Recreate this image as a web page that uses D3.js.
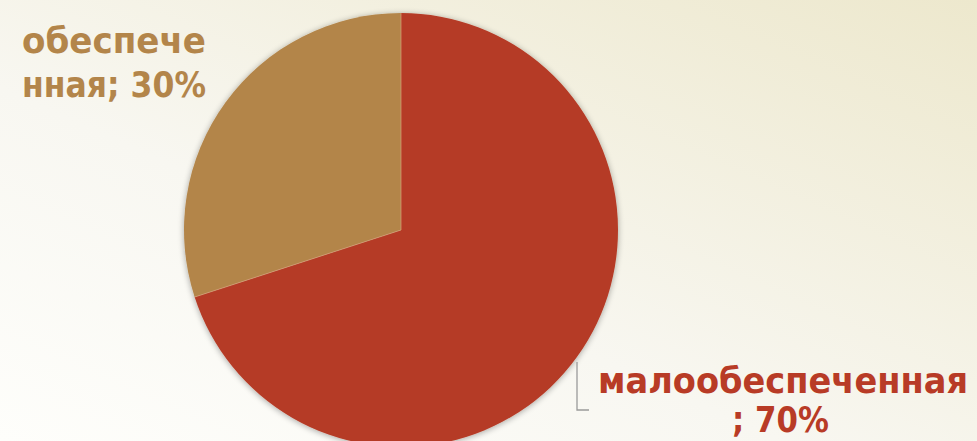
<!DOCTYPE html>
<html><head><meta charset="utf-8">
<script src="https://cdn.jsdelivr.net/npm/d3@7"></script>
<style>html,body{margin:0;padding:0;overflow:hidden;}svg{display:block;}</style>
</head><body>
<script>
const categories = ["обеспеченная", "малообеспеченная"];
const values = [30, 70];
const labelLines = [["обеспече", "нная; 30%"], ["малообеспеченная", "; 70%"]];
const colors = ["#b3854a", "#b53b26"];

const W = 977, H = 441;
const svg = d3.select("body").append("svg").attr("width", W).attr("height", H);
const defs = svg.append("defs");
const bg = defs.append("linearGradient").attr("id","bg").attr("x1","0%").attr("y1","100%").attr("x2","100%").attr("y2","0%");
bg.append("stop").attr("offset","0%").attr("stop-color","#fefefb");
bg.append("stop").attr("offset","40%").attr("stop-color","#f8f7f1");
bg.append("stop").attr("offset","100%").attr("stop-color","#ede8cd");
svg.append("rect").attr("width",W).attr("height",H).attr("fill","url(#bg)");

const f = defs.append("filter").attr("id","sh").attr("x","-20%").attr("y","-20%").attr("width","140%").attr("height","140%");
f.append("feGaussianBlur").attr("in","SourceAlpha").attr("stdDeviation",3);
f.append("feOffset").attr("dx",0).attr("dy",1).attr("result","b");
f.append("feComponentTransfer").append("feFuncA").attr("type","linear").attr("slope",0.35);
const m = f.append("feMerge"); m.append("feMergeNode"); m.append("feMergeNode").attr("in","SourceGraphic");

const cx = 401, cy = 230, R = 217;
const pieGen = d3.pie().sort(null).startAngle(0).endAngle(2*Math.PI);
const arcs = pieGen([values[1], values[0]]);
const arc = d3.arc().innerRadius(0).outerRadius(R);
const g = svg.append("g").attr("transform",`translate(${cx},${cy})`).attr("filter","url(#sh)");
g.selectAll("path").data(arcs).join("path")
  .attr("d", arc)
  .attr("fill", (d,i) => i === 0 ? colors[1] : colors[0]);
// light separators along radial edges
g.selectAll("line.sep").data(arcs).join("line").attr("class","sep")
  .attr("x1",0).attr("y1",0)
  .attr("x2", d => R*Math.sin(d.startAngle)).attr("y2", d => -R*Math.cos(d.startAngle))
  .attr("stroke","#d9a27a").attr("stroke-width",0.7);

const font = "'DejaVu Sans', sans-serif";
const fs = 35;
const t1 = svg.append("text").attr("font-family",font).attr("font-weight","bold").attr("font-size",fs).attr("fill",colors[0]);
t1.append("tspan").attr("x",22).attr("y",53).attr("textLength",184).attr("lengthAdjust","spacingAndGlyphs").text(labelLines[0][0]);
t1.append("tspan").attr("x",22).attr("y",97).attr("textLength",184).attr("lengthAdjust","spacingAndGlyphs").text(labelLines[0][1]);
const t2 = svg.append("text").attr("font-family",font).attr("font-weight","bold").attr("font-size",fs).attr("fill","#b83b26");
t2.append("tspan").attr("x",598).attr("y",393).attr("textLength",370).attr("lengthAdjust","spacingAndGlyphs").text(labelLines[1][0]);
t2.append("tspan").attr("x",732).attr("y",432).attr("textLength",97).attr("lengthAdjust","spacingAndGlyphs").text(labelLines[1][1]);
svg.append("path").attr("d","M577,362 V410 H589").attr("fill","none").attr("stroke","#9a9a9a").attr("stroke-width",1.3);
</script>
</body></html>
